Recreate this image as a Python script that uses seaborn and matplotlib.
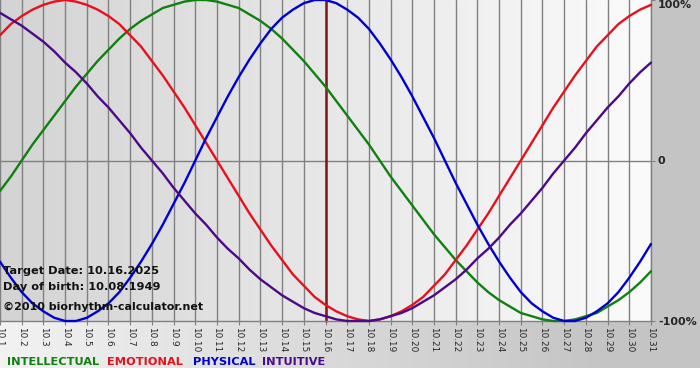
import numpy as np
import pandas as pd
import matplotlib
matplotlib.use("Agg")
import matplotlib.pyplot as plt
import seaborn as sns

# ------------------------------------------------------------- #
#                    DATOS                 #
# ------------------------------------------------------------- #

days = list(range(1, 32))
day_labels = [f"10.{d}" for d in days]

# valores leídos cada medio día (10.1, 10.1½, ... 10.31)
sample_days = np.arange(1, 31.5, 0.5)

intellectual = [-0.19, -0.10, 0.00, 0.10, 0.19, 0.28, 0.37, 0.46, 0.54, 0.62,
                0.69, 0.76, 0.82, 0.87, 0.91, 0.95, 0.97, 0.99, 1.00, 1.00,
                0.99, 0.97, 0.95, 0.91, 0.87, 0.82, 0.76, 0.69, 0.62, 0.54,
                0.46, 0.37, 0.28, 0.19, 0.10, 0.00, -0.10, -0.19, -0.28, -0.37,
                -0.46, -0.54, -0.62, -0.69, -0.76, -0.82, -0.87, -0.91, -0.95, -0.97,
                -0.99, -1.00, -1.00, -0.99, -0.97, -0.95, -0.91, -0.87, -0.82, -0.76,
                -0.69]
emotional = [0.78, 0.85, 0.90, 0.94, 0.97, 0.99, 1.00, 0.99, 0.97, 0.94,
             0.90, 0.85, 0.78, 0.71, 0.62, 0.53, 0.43, 0.33, 0.22, 0.11,
             0.00, -0.11, -0.22, -0.33, -0.43, -0.53, -0.62, -0.71, -0.78, -0.85,
             -0.90, -0.94, -0.97, -0.99, -1.00, -0.99, -0.97, -0.94, -0.90, -0.85,
             -0.78, -0.71, -0.62, -0.53, -0.43, -0.33, -0.22, -0.11, 0.00, 0.11,
             0.22, 0.33, 0.43, 0.53, 0.62, 0.71, 0.78, 0.85, 0.90, 0.94,
             0.97]
physical = [-0.63, -0.73, -0.82, -0.89, -0.94, -0.98, -1.00, -1.00, -0.98, -0.94,
            -0.89, -0.82, -0.73, -0.63, -0.52, -0.40, -0.27, -0.14, 0.00, 0.14,
            0.27, 0.40, 0.52, 0.63, 0.73, 0.82, 0.89, 0.94, 0.98, 1.00,
            1.00, 0.98, 0.94, 0.89, 0.82, 0.73, 0.63, 0.52, 0.40, 0.27,
            0.14, 0.00, -0.14, -0.27, -0.40, -0.52, -0.63, -0.73, -0.82, -0.89,
            -0.94, -0.98, -1.00, -1.00, -0.98, -0.94, -0.89, -0.82, -0.73, -0.63,
            -0.52]
intuitive = [0.92, 0.88, 0.84, 0.79, 0.74, 0.68, 0.61, 0.55, 0.48, 0.40,
             0.33, 0.25, 0.17, 0.08, 0.00, -0.08, -0.17, -0.25, -0.33, -0.40,
             -0.48, -0.55, -0.61, -0.68, -0.74, -0.79, -0.84, -0.88, -0.92, -0.95,
             -0.97, -0.99, -1.00, -1.00, -1.00, -0.99, -0.97, -0.95, -0.92, -0.88,
             -0.84, -0.79, -0.74, -0.68, -0.61, -0.55, -0.48, -0.40, -0.33, -0.25,
             -0.17, -0.08, 0.00, 0.08, 0.17, 0.25, 0.33, 0.40, 0.48, 0.55,
             0.61]

target_day = 16
y_ticks = [-1, 0, 1]
y_labels = ["-100%", "0", "100%"]

colors = {
    "INTELLECTUAL": "#108010",
    "EMOTIONAL": "#e8101c",
    "PHYSICAL": "#0000d0",
    "INTUITIVE": "#4b0a88",
}

# Tabla larga para seaborn
df = pd.concat([
    pd.DataFrame({"day": sample_days, "value": intellectual, "cycle": "INTELLECTUAL"}),
    pd.DataFrame({"day": sample_days, "value": emotional, "cycle": "EMOTIONAL"}),
    pd.DataFrame({"day": sample_days, "value": physical, "cycle": "PHYSICAL"}),
    pd.DataFrame({"day": sample_days, "value": intuitive, "cycle": "INTUITIVE"}),
], ignore_index=True)

# ------------------------------------------------------------- #
#                            GRÁFICO                            #
# ------------------------------------------------------------- #

sns.set_style("white")
plt.rcParams["font.family"] = ["DejaVu Sans"]

fig = plt.figure(figsize=(7, 3.8), dpi=100, facecolor="white")

# fondo gris degradado (zona de etiquetas y leyenda)
bg = fig.add_axes([0, 12 / 380, 1, 368 / 380], zorder=0)
g = np.clip(np.linspace(0, 1.15, 256), 0, 1)
c_left, c_right = np.array([0.95, 0.95, 0.95]), np.array([0.77, 0.77, 0.77])
grad = (c_left[None, :] * (1 - g[:, None]) + c_right[None, :] * g[:, None])[None, :, :]
bg.imshow(grad, aspect="auto", extent=(0, 1, 0, 1))
bg.axis("off")

# área del gráfico
ax = fig.add_axes([0, 59 / 380, 651 / 700, 321 / 380], zorder=1)
p_left, p_right = np.array([0.83, 0.83, 0.83]), np.array([0.985, 0.985, 0.985])
t = np.linspace(0, 1, 256)
pgrad = (p_left[None, :] * (1 - t[:, None]) + p_right[None, :] * t[:, None])[None, :, :]
ax.imshow(pgrad, aspect="auto", extent=(1, 31, -1, 1), zorder=0)

ax.set_xticks(days)
ax.set_xticklabels(day_labels, rotation=-90)
ax.grid(axis="x", color="#808080", linewidth=1)
ax.grid(axis="y", visible=False)
ax.axhline(0, color="#808080", linewidth=1, zorder=1)
ax.axvline(target_day, color="#7e1a1a", linewidth=1.8, zorder=2)

sns.lineplot(data=df, x="day", y="value", hue="cycle", palette=colors,
             linewidth=1.7, legend=False, ax=ax, zorder=3)
for line in ax.lines:
    line.set_clip_on(False)

ax.set_xlim(1, 31)
ax.set_ylim(-1, 1)
ax.set_xlabel("")
ax.set_ylabel("")
ax.set_axisbelow(True)

ax.yaxis.tick_right()
ax.set_yticks(y_ticks)
ax.set_yticklabels(y_labels, fontweight="bold", fontsize=8)
ax.get_yticklabels()[-1].set_verticalalignment("top")
ax.tick_params(axis="y", length=3, color="#808080", pad=2, direction="out")
ax.tick_params(axis="x", length=3, color="#808080", pad=1.5, labelsize=6.4,
               direction="out", bottom=True)

for side in ["left", "top"]:
    ax.spines[side].set_visible(False)
for side in ["bottom", "right"]:
    ax.spines[side].set_color("#808080")
    ax.spines[side].set_linewidth(1)

# textos informativos
fig.text(3 / 700, 1 - 271 / 380, "Target Date: 10.16.2025", fontsize=8.2,
         fontweight="bold", color="#111111", va="center", zorder=5)
fig.text(3 / 700, 1 - 287 / 380, "Day of birth: 10.08.1949", fontsize=8.2,
         fontweight="bold", color="#111111", va="center", zorder=5)
fig.text(3 / 700, 1 - 307 / 380, "©2010 biorhythm-calculator.net", fontsize=8.0,
         fontweight="bold", color="#111111", va="center", zorder=5)

# leyenda manual
legend_x = [7, 107, 193, 262]
for x, name in zip(legend_x, colors):
    fig.text(x / 700, 1 - 362 / 380, name, fontsize=8.2, fontweight="bold",
             color=colors[name], va="center", zorder=5)

plt.savefig("out.png", dpi=100, facecolor=fig.get_facecolor())
